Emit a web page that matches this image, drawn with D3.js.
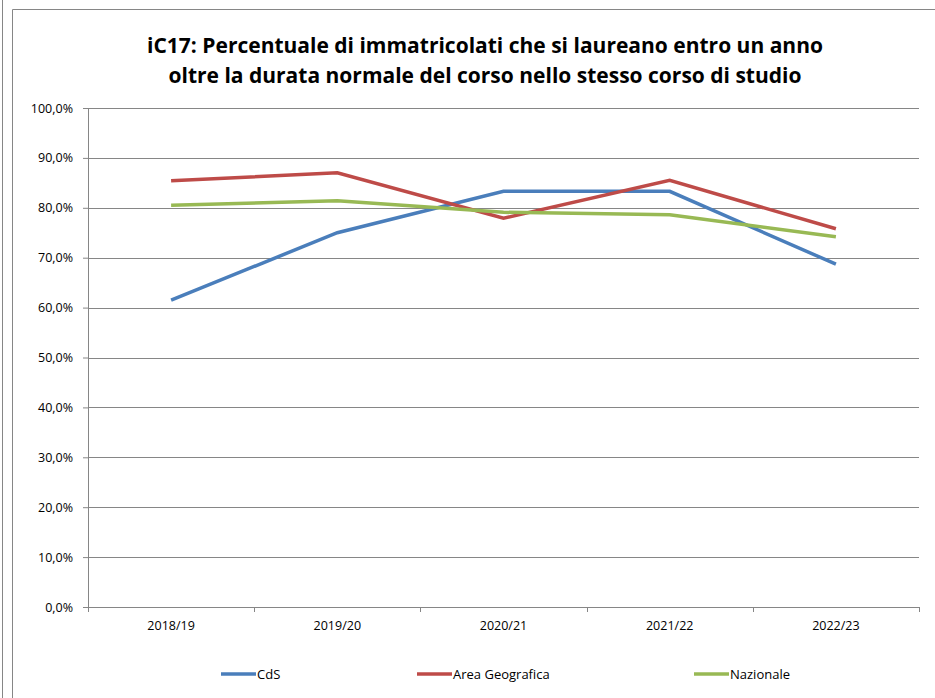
<!DOCTYPE html>
<html>
<head>
<meta charset="utf-8">
<script src="https://cdn.jsdelivr.net/npm/d3@7"></script>
<style>
  body { margin: 0; background: #fff; }
  svg text { font-family: "Open Sans", "Noto Sans", sans-serif; fill: #000; }
</style>
</head>
<body>
<svg width="935" height="698"></svg>
<script>
// anni accademici
const years = ["2018/19", "2019/20", "2020/21", "2021/22", "2022/23"]
// valori in percentuale
const cds = [61.5, 75.0, 83.3, 83.3, 68.7]
const areaGeo = [85.4, 87.0, 77.9, 85.5, 75.8]
const nazionale = [80.5, 81.4, 79.1, 78.6, 74.2]
const yTicks = [0, 10, 20, 30, 40, 50, 60, 70, 80, 90, 100]
const seriesNames = ["CdS", "Area Geografica", "Nazionale"]
const titleLines = [
  "iC17: Percentuale di immatricolati che si laureano entro un anno",
  "oltre la durata normale del corso nello stesso corso di studio"
]

const series = [
  { name: seriesNames[0], values: cds, color: "#4a7ebb" },
  { name: seriesNames[1], values: areaGeo, color: "#be4b48" },
  { name: seriesNames[2], values: nazionale, color: "#98b954" }
]

const svg = d3.select("svg")
const grey = "#868686"

// bordi della pagina e del grafico
svg.append("line").attr("x1", 2.5).attr("x2", 2.5).attr("y1", 0).attr("y2", 698)
  .attr("stroke", grey)
svg.append("path").attr("d", "M12.5,698 V9.5 H935")
  .attr("fill", "none").attr("stroke", grey)

const margin = { top: 108, left: 88, right: 16, bottom: 91 }
const innerWidth = 935 - margin.left - margin.right
const innerHeight = 698 - margin.top - margin.bottom

const g = svg.append("g").attr("transform", `translate(${margin.left},${margin.top})`)

const x = d3.scaleBand().domain(years).range([0, innerWidth])
const y = d3.scaleLinear().domain([0, 100]).range([innerHeight, 0])

const fmt = d => d3.format(".1f")(d).replace(".", ",") + "%"

// griglia + asse y
const yAxis = g.append("g")
  .attr("font-family", "Open Sans").attr("font-size", 12.5)
  .call(d3.axisLeft(y).tickValues(yTicks).tickFormat(fmt).tickSize(5).tickPadding(10))
yAxis.select(".domain").attr("stroke", grey)
yAxis.selectAll(".tick line").attr("stroke", grey)
yAxis.selectAll(".tick text").attr("font-size", 12.5)

g.append("g").selectAll("line")
  .data(yTicks.filter(d => d > 0))
  .join("line")
  .attr("x1", 0).attr("x2", innerWidth)
  .attr("y1", d => Math.round(y(d)) + 0.5).attr("y2", d => Math.round(y(d)) + 0.5)
  .attr("stroke", grey)

// asse x
const xAxis = g.append("g")
  .attr("transform", `translate(0,${innerHeight})`)
  .attr("font-family", "Open Sans").attr("font-size", 12.5)
  .call(d3.axisBottom(x).tickSize(0).tickPadding(14))
xAxis.select(".domain").attr("stroke", grey)
xAxis.selectAll(".tick text").attr("font-size", 12.5)
g.append("g").selectAll("line")
  .data(d3.range(years.length + 1))
  .join("line")
  .attr("x1", i => Math.round(i * x.step()) + 0.5).attr("x2", i => Math.round(i * x.step()) + 0.5)
  .attr("y1", innerHeight).attr("y2", innerHeight + 5)
  .attr("stroke", grey)

// linee
const line = d3.line()
  .x((d, i) => x(years[i]) + x.bandwidth() / 2)
  .y(d => y(d))

g.append("g").selectAll("path")
  .data(series)
  .join("path")
  .attr("d", d => line(d.values))
  .attr("fill", "none")
  .attr("stroke", d => d.color)
  .attr("stroke-width", 3.5)

// titolo
const title = svg.append("text")
  .attr("text-anchor", "middle")
  .attr("font-weight", "bold")
  .attr("font-size", 21)
title.selectAll("tspan")
  .data(titleLines)
  .join("tspan")
  .attr("x", 485)
  .attr("y", (d, i) => 53 + i * 30)
  .text(d => d)

// legenda
const legendX = [221, 417, 694]
const legend = svg.append("g").selectAll("g")
  .data(series)
  .join("g")
  .attr("transform", (d, i) => `translate(${legendX[i]},674)`)
legend.append("line")
  .attr("x1", 0).attr("x2", 35)
  .attr("stroke", d => d.color).attr("stroke-width", 3.5)
legend.append("text")
  .attr("x", 36).attr("dy", "0.35em")
  .attr("font-size", 13)
  .text(d => d.name)
</script>
</body>
</html>
